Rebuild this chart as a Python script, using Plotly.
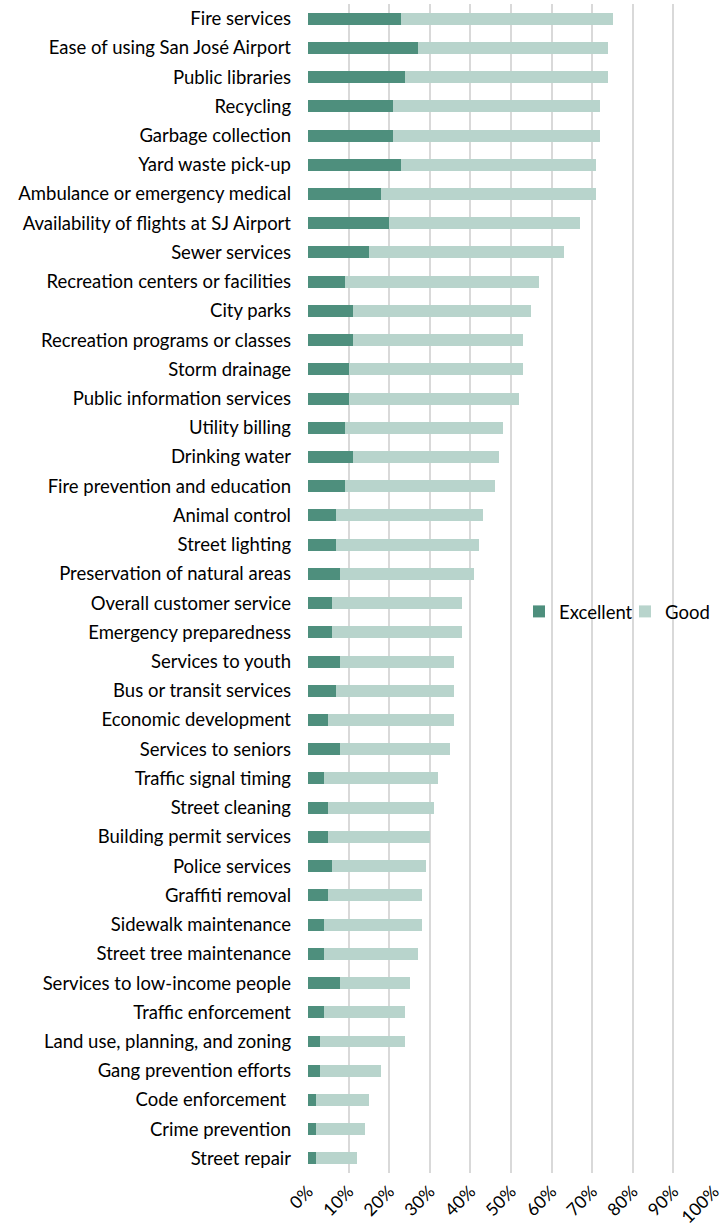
import plotly.graph_objects as go

categories = [
    "Fire services", "Ease of using San José Airport", "Public libraries", "Recycling",
    "Garbage collection", "Yard waste pick-up", "Ambulance or emergency medical",
    "Availability of flights at SJ Airport", "Sewer services", "Recreation centers or facilities",
    "City parks", "Recreation programs or classes", "Storm drainage", "Public information services",
    "Utility billing", "Drinking water", "Fire prevention and education", "Animal control",
    "Street lighting", "Preservation of natural areas", "Overall customer service",
    "Emergency preparedness", "Services to youth", "Bus or transit services",
    "Economic development", "Services to seniors", "Traffic signal timing", "Street cleaning",
    "Building permit services", "Police services", "Graffiti removal", "Sidewalk maintenance",
    "Street tree maintenance", "Services to low-income people", "Traffic enforcement",
    "Land use, planning, and zoning", "Gang prevention efforts", "Code enforcement ",
    "Crime prevention", "Street repair",
]
excellent = [23, 27, 24, 21, 21, 23, 18, 20, 15, 9,
             11, 11, 10, 10, 9, 11, 9, 7, 7, 8,
             6, 6, 8, 7, 5, 8, 4, 5, 5, 6,
             5, 4, 4, 8, 4, 3, 3, 2, 2, 2]
total = [75, 74, 74, 72, 72, 71, 71, 67, 63, 57,
         55, 53, 53, 52, 48, 47, 46, 43, 42, 41,
         38, 38, 36, 36, 36, 35, 32, 31, 30, 29,
         28, 28, 27, 25, 24, 24, 18, 15, 14, 12]
good = [t - e for t, e in zip(total, excellent)]
tick_vals = list(range(0, 101, 10))
tick_text = [f"{v}%" for v in tick_vals]

FONT = "Lato, 'Open Sans', sans-serif"

fig = go.Figure()
fig.add_trace(go.Bar(y=categories, x=excellent, name="Excellent", orientation="h",
                     marker=dict(color="#4e8f7d", line=dict(width=0)),
                     legend="legend", showlegend=True))
fig.add_trace(go.Bar(y=categories, x=good, name="Good", orientation="h",
                     marker=dict(color="#b8d4cc", line=dict(width=0)),
                     legend="legend2", showlegend=True))

leg_common = dict(orientation="h", y=0.48, xanchor="left", yanchor="middle",
                  bgcolor="rgba(0,0,0,0)", font=dict(size=18.5), itemwidth=30)

fig.update_layout(
    barmode="stack",
    bargap=0.59,
    showlegend=True,
    width=723, height=1224,
    margin=dict(l=308, r=9, t=4, b=51),
    paper_bgcolor="white", plot_bgcolor="white",
    font=dict(family=FONT, size=18.5, color="#000000"),
    legend=dict(x=(519 - 308) / 406, **leg_common),
    legend2=dict(x=(625 - 308) / 406, **leg_common),
    xaxis=dict(range=[0, 100], tickvals=tick_vals, ticktext=tick_text, tickangle=-45,
               showgrid=True, gridcolor="#d9d9d9", gridwidth=2, zeroline=False,
               showline=False, ticks="", tickfont=dict(size=17.5), ticklabelstandoff=4,
               ticklabeloverflow="allow", automargin=False),
    yaxis=dict(autorange="reversed", showgrid=False, zeroline=False, showline=False,
               ticks="", ticklabelstandoff=16, tickfont=dict(size=18.5), automargin=False),
)

fig.write_html("out.html", config={"displayModeBar": False},
               post_script="document.body.style.margin='0';")
